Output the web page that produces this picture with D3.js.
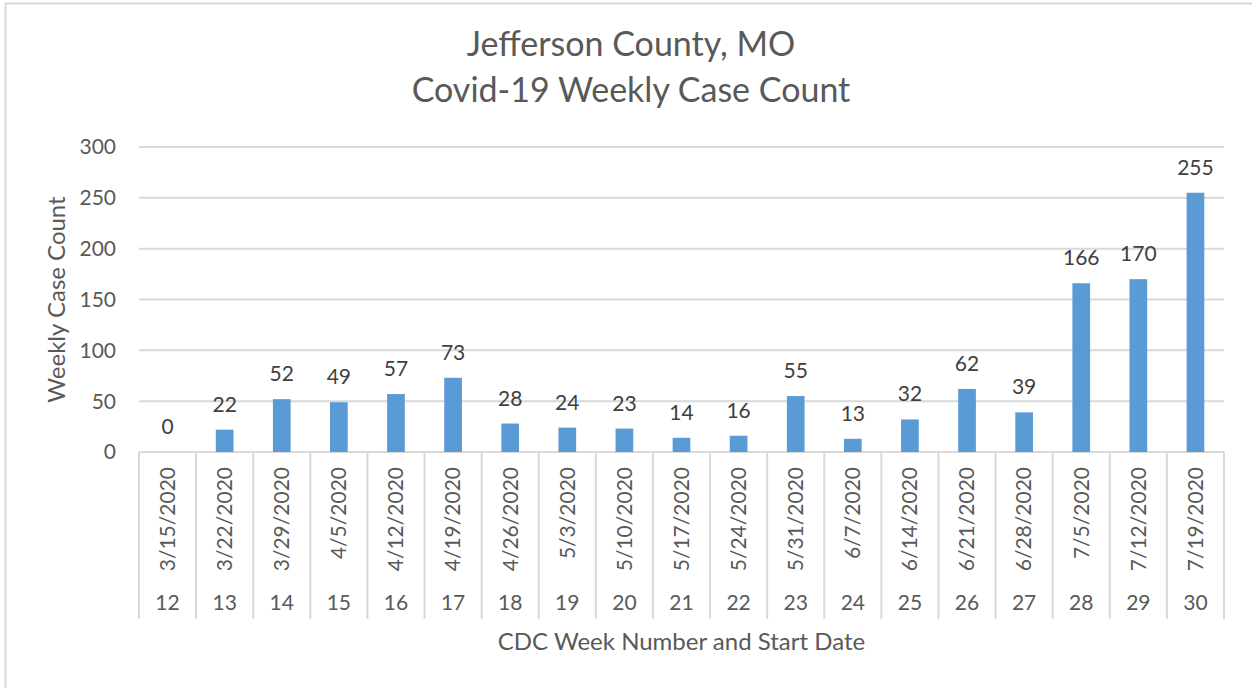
<!DOCTYPE html>
<html>
<head>
<meta charset="utf-8">
<script src="https://cdn.jsdelivr.net/npm/d3@7"></script>
<style>
  body { margin: 0; background: #fff; }
  text { font-family: Lato, "Open Sans", sans-serif; }
</style>
</head>
<body>
<script>
//data
var weeks = ["12", "13", "14", "15", "16", "17", "18", "19", "20", "21", "22", "23", "24", "25", "26", "27", "28", "29", "30"];
var dates = ["3/15/2020", "3/22/2020", "3/29/2020", "4/5/2020", "4/12/2020", "4/19/2020", "4/26/2020", "5/3/2020", "5/10/2020", "5/17/2020", "5/24/2020", "5/31/2020", "6/7/2020", "6/14/2020", "6/21/2020", "6/28/2020", "7/5/2020", "7/12/2020", "7/19/2020"];
var cases = [0, 22, 52, 49, 57, 73, 28, 24, 23, 14, 16, 55, 13, 32, 62, 39, 166, 170, 255];
var yTicks = [0, 50, 100, 150, 200, 250, 300];

//config
var width = 1252, height = 688;
var plot = {left: 139, right: 1224, top: 147, bottom: 452};
var catBottom = 619;
var barColor = "#5B9BD5";
var gridColor = "#D9D9D9";
var textColor = "#595959";
var labelColor = "#404040";
var numSize = "21px";   // digits
var wordSize = "24px";  // axis titles

var svg = d3.select("body").append("svg")
    .attr("width", width)
    .attr("height", height);

//chart border
svg.append("rect")
    .attr("x", 5.5).attr("y", 3.5)
    .attr("width", width + 10).attr("height", height + 10)
    .attr("fill", "white")
    .attr("stroke", gridColor)
    .attr("stroke-width", 2);

var x = d3.scaleBand()
    .domain(weeks)
    .range([plot.left, plot.right])
    .paddingInner(0.69)
    .paddingOuter(0.345);

var xCat = d3.scaleBand()
    .domain(weeks)
    .range([plot.left, plot.right]);

var y = d3.scaleLinear()
    .domain([0, 300])
    .range([plot.bottom, plot.top]);

//gridlines
svg.append("g").selectAll("line")
    .data(yTicks)
    .enter().append("line")
    .attr("x1", plot.left).attr("x2", plot.right)
    .attr("y1", function(d) { return y(d); })
    .attr("y2", function(d) { return y(d); })
    .attr("stroke", gridColor)
    .attr("stroke-width", 2);

//y tick labels
svg.append("g").selectAll("text")
    .data(yTicks)
    .enter().append("text")
    .attr("x", plot.left - 23)
    .attr("y", function(d) { return y(d); })
    .attr("dy", "0.35em")
    .attr("text-anchor", "end")
    .attr("fill", textColor)
    .style("font-size", numSize)
    .text(function(d) { return d; });

//bars
svg.append("g").selectAll("rect")
    .data(cases)
    .enter().append("rect")
    .attr("x", function(d, i) { return x(weeks[i]); })
    .attr("width", x.bandwidth())
    .attr("y", function(d) { return y(d); })
    .attr("height", function(d) { return y(0) - y(d); })
    .attr("fill", barColor);

//data labels
svg.append("g").selectAll("text")
    .data(cases)
    .enter().append("text")
    .attr("x", function(d, i) { return xCat(weeks[i]) + xCat.bandwidth() / 2; })
    .attr("y", function(d) { return y(d) - 18; })
    .attr("text-anchor", "middle")
    .attr("fill", labelColor)
    .style("font-size", numSize)
    .text(function(d) { return d; });

//category separators
var seps = xCat.domain().map(function(d) { return xCat(d); }).concat([plot.right]);
svg.append("g").selectAll("line")
    .data(seps)
    .enter().append("line")
    .attr("x1", function(d) { return d; }).attr("x2", function(d) { return d; })
    .attr("y1", plot.bottom).attr("y2", catBottom)
    .attr("stroke", gridColor)
    .attr("stroke-width", 2);

//date labels (rotated)
svg.append("g").selectAll("text")
    .data(dates)
    .enter().append("text")
    .attr("transform", function(d, i) {
        return "translate(" + (xCat(weeks[i]) + xCat.bandwidth() / 2) + "," + 467 + ") rotate(-90)";
    })
    .attr("dy", "0.35em")
    .attr("text-anchor", "end")
    .attr("fill", textColor)
    .style("font-size", numSize)
    .text(function(d) { return d; });

//week numbers
svg.append("g").selectAll("text")
    .data(weeks)
    .enter().append("text")
    .attr("x", function(d) { return xCat(d) + xCat.bandwidth() / 2; })
    .attr("y", 603)
    .attr("dy", "0.35em")
    .attr("text-anchor", "middle")
    .attr("fill", textColor)
    .style("font-size", numSize)
    .text(function(d) { return d; });

//axis titles
svg.append("text")
    .attr("x", (plot.left + plot.right) / 2)
    .attr("y", 642)
    .attr("dy", "0.35em")
    .attr("text-anchor", "middle")
    .attr("fill", textColor)
    .style("font-size", wordSize)
    .text("CDC Week Number and Start Date");

svg.append("text")
    .attr("transform", "translate(57," + (plot.top + plot.bottom) / 2 + ") rotate(-90)")
    .attr("dy", "0.35em")
    .attr("text-anchor", "middle")
    .attr("fill", textColor)
    .style("font-size", wordSize)
    .text("Weekly Case Count");

//title
var title = svg.append("text")
    .attr("text-anchor", "middle")
    .attr("fill", textColor)
    .style("font-size", "34px");
title.append("tspan").attr("x", 631).attr("y", 56).text("Jefferson County, MO");
title.append("tspan").attr("x", 631).attr("y", 102).text("Covid-19 Weekly Case Count");
</script>
</body>
</html>
